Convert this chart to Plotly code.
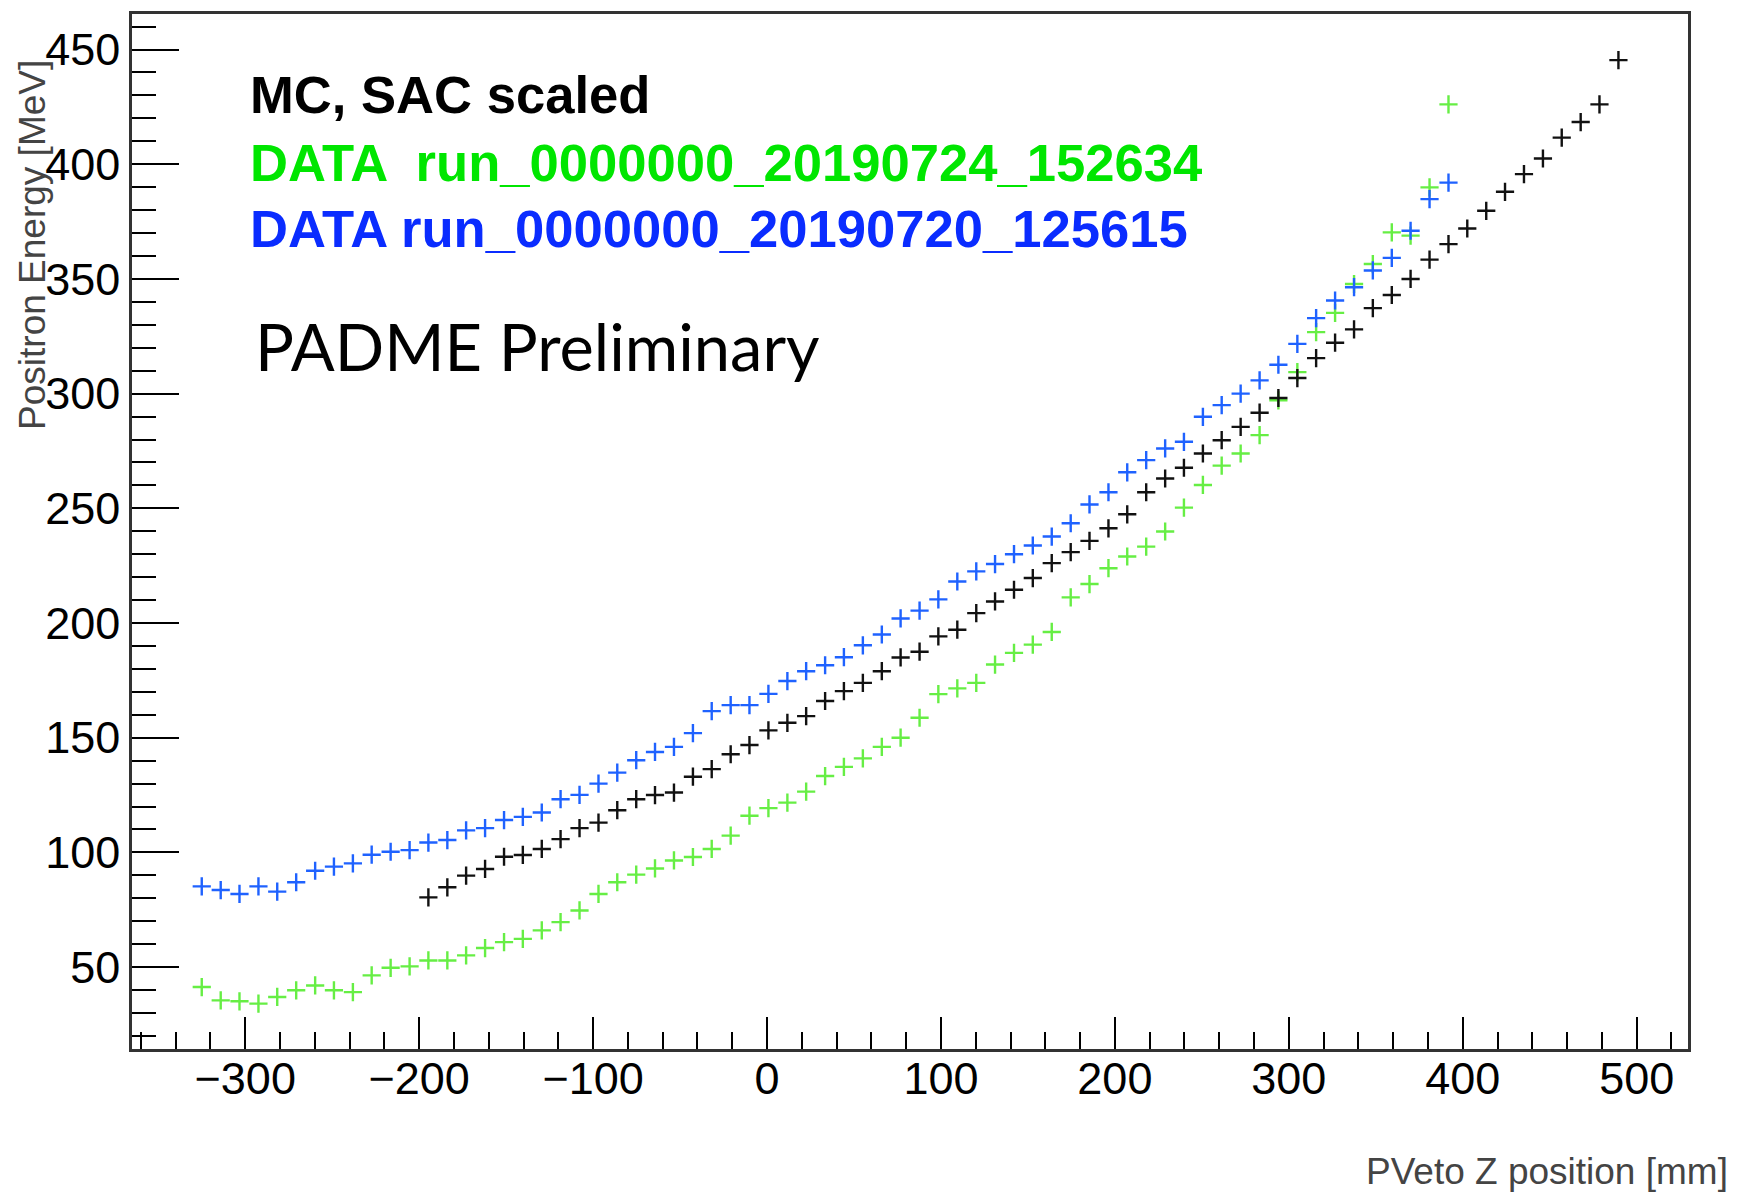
import plotly.graph_objects as go

# Bin centres (PVeto Z position, mm)
z_data = [-325.0, -314.1, -303.3, -292.4, -281.6, -270.7, -259.8, -249.0, -238.1, -227.3,
          -216.4, -205.5, -194.7, -183.8, -173.0, -162.1, -151.2, -140.4, -129.5, -118.7,
          -107.8, -96.9, -86.1, -75.2, -64.4, -53.5, -42.6, -31.8, -20.9, -10.1,
          0.8, 11.7, 22.5, 33.4, 44.2, 55.1, 66.0, 76.8, 87.7, 98.5,
          109.4, 120.3, 131.1, 142.0, 152.8, 163.7, 174.6, 185.4, 196.3, 207.1,
          218.0, 228.9, 239.7, 250.6, 261.4, 272.3, 283.2, 294.0, 304.9, 315.7,
          326.6, 337.5, 348.3, 359.2, 370.0, 380.9, 391.8]

z_mc = [-194.7, -183.8, -173.0, -162.1, -151.2, -140.4, -129.5, -118.7,
        -107.8, -96.9, -86.1, -75.2, -64.4, -53.5, -42.6, -31.8, -20.9, -10.1,
        0.8, 11.7, 22.5, 33.4, 44.2, 55.1, 66.0, 76.8, 87.7, 98.5,
        109.4, 120.3, 131.1, 142.0, 152.8, 163.7, 174.6, 185.4, 196.3, 207.1,
        218.0, 228.9, 239.7, 250.6, 261.4, 272.3, 283.2, 294.0, 304.9, 315.7,
        326.6, 337.5, 348.3, 359.2, 370.0, 380.9, 391.8, 402.6, 413.5, 424.3,
        435.2, 446.1, 456.9, 467.8, 478.6, 489.5]

# Positron energy (MeV)
e_mc = [80.4, 84.8, 89.9, 92.8, 98.1, 98.9, 101.5, 105.8,
        110.6, 113.0, 118.4, 123.2, 125.0, 126.1, 133.0, 136.3, 142.8, 146.8,
        153.2, 156.5, 159.4, 166.0, 170.3, 173.9, 179.0, 185.0, 187.5, 194.2,
        197.1, 204.3, 209.4, 214.5, 219.6, 226.1, 230.9, 235.8, 241.3, 247.4,
        257.0, 263.0, 267.7, 273.9, 279.7, 285.5, 291.7, 298.1, 306.8, 315.5,
        322.2, 328.0, 337.3, 343.0, 350.0, 358.4, 365.2, 372.0, 379.7, 388.0,
        395.7, 402.5, 411.6, 418.4, 426.1, 445.4]

e_run_0724 = [41.3, 35.5, 35.1, 34.1, 37.0, 39.9, 42.0, 39.9, 39.1, 46.4,
              49.7, 50.3, 52.9, 52.9, 55.1, 58.3, 60.9, 62.3, 66.0, 69.6,
              74.7, 81.9, 87.0, 90.3, 93.0, 96.5, 98.0, 101.5, 107.3, 116.0,
              119.3, 121.7, 126.5, 133.3, 137.3, 141.0, 146.0, 150.0, 158.7, 169.0,
              171.5, 173.9, 181.9, 187.0, 190.6, 196.1, 211.2, 217.0, 223.9, 229.0,
              233.3, 239.9, 250.3, 260.2, 268.6, 273.9, 281.9, 297.1, 309.4, 326.8,
              335.2, 347.8, 356.5, 370.3, 368.9, 389.9, 426.1]

e_run_0720 = [85.2, 83.6, 81.9, 85.2, 82.9, 87.0, 92.0, 93.8, 95.2, 99.0,
              100.3, 101.0, 104.3, 105.4, 109.6, 110.6, 114.1, 115.5, 117.4, 123.2,
              125.1, 130.0, 134.8, 140.2, 143.8, 146.0, 152.0, 161.6, 164.2, 164.2,
              169.1, 174.7, 179.0, 181.6, 185.1, 190.3, 195.0, 202.0, 205.4, 210.3,
              218.1, 222.5, 225.7, 230.0, 233.8, 237.7, 243.5, 251.7, 257.0, 265.7,
              271.0, 276.1, 279.0, 289.9, 295.0, 300.0, 305.8, 312.6, 321.7, 332.9,
              340.6, 346.4, 353.7, 359.2, 371.0, 384.8, 392.0]

legend_lines = ["MC, SAC scaled",
                "DATA  run_0000000_20190724_152634",
                "DATA run_0000000_20190720_125615"]

NARROW = "Liberation Sans Narrow, Arial Narrow, Liberation Sans, Arial, sans-serif"

fig = go.Figure()

def add_series(x, y, color, name):
    fig.add_trace(go.Scatter(
        x=x, y=y, mode="markers", name=name,
        marker=dict(symbol="cross-thin", size=13, color=color,
                    line=dict(color=color, width=2.4)),
        showlegend=False))

add_series(z_data, e_run_0724, "#66ee44", legend_lines[1])
add_series(z_data, e_run_0720, "#1f62ff", legend_lines[2])
add_series(z_mc, e_mc, "#111111", legend_lines[0])

fig.update_layout(
    width=1737, height=1195,
    margin=dict(l=132, r=49, t=11, b=146),
    paper_bgcolor="white", plot_bgcolor="white",
    font=dict(family=NARROW, color="black"),
    xaxis=dict(range=[-365.1, 529.5], tick0=0, dtick=100, ticks="inside",
               ticklen=32, tickwidth=1.6, tickcolor="black",
               minor=dict(dtick=20, ticklen=17, tickwidth=1.6, tickcolor="black", ticks="inside"),
               showgrid=False, zeroline=False, showline=True, linecolor="#333333",
               linewidth=2.5, mirror=True, ticklabelstandoff=-12,
               tickfont=dict(size=45, family=NARROW, color="black")),
    yaxis=dict(range=[14.3, 465.5], tick0=0, dtick=50, ticks="inside",
               ticklen=47, tickwidth=1.6, tickcolor="black",
               minor=dict(dtick=10, ticklen=24, tickwidth=1.6, tickcolor="black", ticks="inside"),
               showgrid=False, zeroline=False, showline=True, linecolor="#333333",
               linewidth=2.5, mirror=True,
               tickfont=dict(size=45, family=NARROW, color="black")),
)

BOLD = "Liberation Sans, Arial, sans-serif"
ann = [
    dict(text=legend_lines[0], x=0.0744, y=0.9223, color="#000000"),
    dict(text=legend_lines[1], x=0.0744, y=0.8566, color="#00e600"),
    dict(text=legend_lines[2], x=0.0744, y=0.7927, color="#0a2cff"),
]
for a in ann:
    fig.add_annotation(text=a["text"], x=a["x"], y=a["y"], xref="paper", yref="paper",
                       xanchor="left", yanchor="middle", showarrow=False,
                       font=dict(family=BOLD, size=52.6, color=a["color"], weight="bold"))

fig.add_annotation(text="PADME Preliminary", x=0.0775, y=0.6797, xref="paper", yref="paper",
                   xanchor="left", yanchor="middle", showarrow=False,
                   font=dict(family="Lato, Open Sans, sans-serif", size=65, color="black"))

fig.add_annotation(text="PVeto Z position [mm]", x=1.027, y=-0.1185, xref="paper", yref="paper",
                   xanchor="right", yanchor="middle", showarrow=False,
                   font=dict(family=NARROW, size=37, color="#444444"))

fig.add_annotation(text="Positron Energy [MeV]", x=-0.0636, y=0.9576, xref="paper", yref="paper",
                   xanchor="center", yanchor="top", textangle=-90, showarrow=False,
                   font=dict(family=NARROW, size=37, color="#444444"))

fig.write_html("out.html")
